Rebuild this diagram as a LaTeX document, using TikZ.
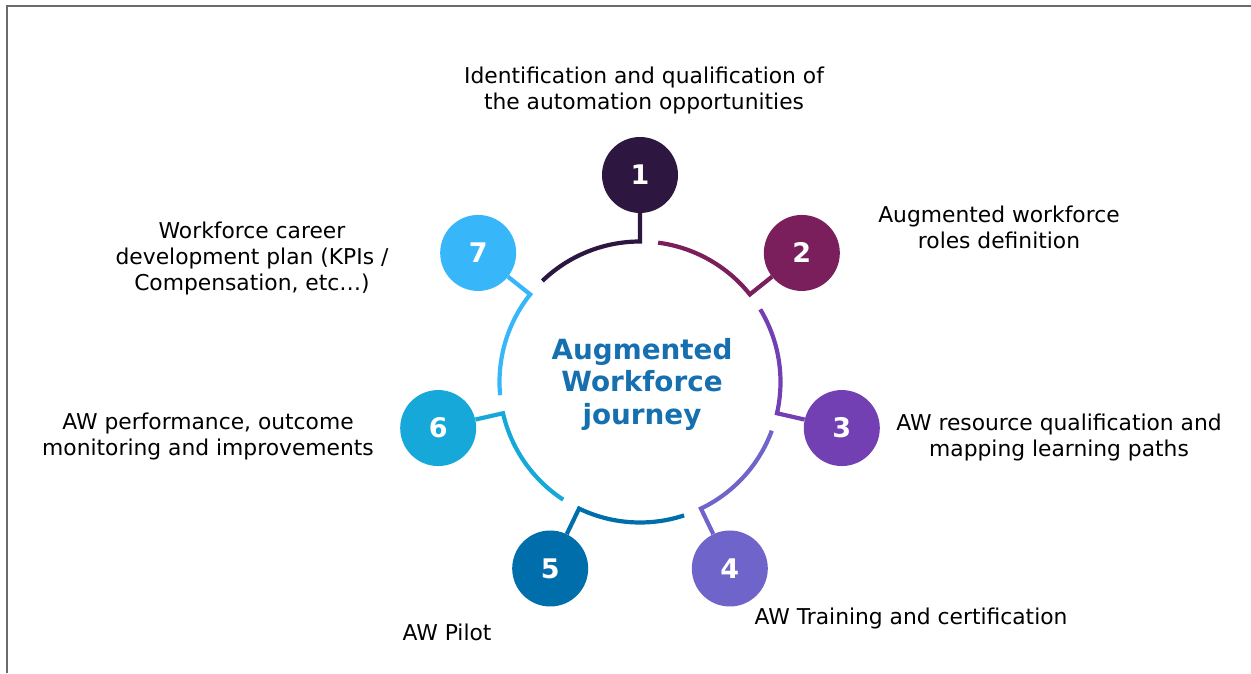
\documentclass[tikz,border=0pt]{standalone}
\usepackage{fontspec}
\setmainfont{DejaVu Sans}
\usetikzlibrary{calc}
\definecolor{stepA}{HTML}{2D1640}
\definecolor{stepB}{HTML}{7A1E5C}
\definecolor{stepC}{HTML}{7340B4}
\definecolor{stepD}{HTML}{6F64C9}
\definecolor{stepE}{HTML}{006EAB}
\definecolor{stepF}{HTML}{16A8D8}
\definecolor{stepG}{HTML}{38B6FA}
\definecolor{hubblue}{HTML}{1670B0}
\definecolor{framegray}{HTML}{6A6A6A}
\tikzset{
    stepdot/.style={circle, minimum size=76pt, inner sep=0pt, text=white,
        font=\fontsize{27}{32}\selectfont\bfseries},
    ring/.style={line width=4.2pt, line join=miter},
    caption/.style={align=center, inner sep=0pt,
        font=\fontsize{21.8}{26}\selectfont},
}

\begin{document}
\begin{tikzpicture}[x=1pt, y=1pt]
    \useasboundingbox (0,0) rectangle (1251,673);
    \draw[framegray, line width=2.2pt] (7,0) -- (7,667) -- (1251,667);

    % hub
    \coordinate (c) at (640,291);
    \node[align=center, text=hubblue, font=\fontsize{27.8}{32.5}\selectfont\bfseries]
        (hub) at (642,289) {Augmented\\Workforce\\journey};

    % steps
    \node[stepdot, fill=stepA] (s1) at ($(c)+(90:207)$) {1};
    \node[stepdot, fill=stepB] (s2) at ($(c)+(38.571:207)$) {2};
    \node[stepdot, fill=stepC] (s3) at ($(c)+(-12.857:207)$) {3};
    \node[stepdot, fill=stepD] (s4) at ($(c)+(-64.286:207)$) {4};
    \node[stepdot, fill=stepE] (s5) at ($(c)+(-115.714:207)$) {5};
    \node[stepdot, fill=stepF] (s6) at ($(c)+(-167.143:207)$) {6};
    \node[stepdot, fill=stepG] (s7) at ($(c)+(141.429:207)$) {7};

    % ring segments ending in a knee towards each step
    \coordinate (k1) at ($(c)+(90:140.5)$);
    \coordinate (k2) at ($(c)+(38.571:140.5)$);
    \coordinate (k3) at ($(c)+(-12.857:140.5)$);
    \coordinate (k4) at ($(c)+(-64.286:140.5)$);
    \coordinate (k5) at ($(c)+(-115.714:140.5)$);
    \coordinate (k6) at ($(c)+(-167.143:140.5)$);
    \coordinate (k7) at ($(c)+(141.429:140.5)$);

    \draw[ring, stepA] ($(c)+(134:140.5)$) arc[start angle=134, end angle=90, radius=140.5] -- (k1) -- (s1);
    \draw[ring, stepB] ($(c)+(82.571:140.5)$) arc[start angle=82.571, end angle=38.571, radius=140.5] -- (k2) -- (s2);
    \draw[ring, stepC] ($(c)+(31.143:140.5)$) arc[start angle=31.143, end angle=-12.857, radius=140.5] -- (k3) -- (s3);
    \draw[ring, stepD] ($(c)+(-20.286:140.5)$) arc[start angle=-20.286, end angle=-64.286, radius=140.5] -- (k4) -- (s4);
    \draw[ring, stepE] ($(c)+(-71.714:140.5)$) arc[start angle=-71.714, end angle=-115.714, radius=140.5] -- (k5) -- (s5);
    \draw[ring, stepF] ($(c)+(-123.143:140.5)$) arc[start angle=-123.143, end angle=-167.143, radius=140.5] -- (k6) -- (s6);
    \draw[ring, stepG] ($(c)+(185.429:140.5)$) arc[start angle=185.429, end angle=141.429, radius=140.5] -- (k7) -- (s7);

    % captions
    \node[caption] (t1) at (644,583) {Identification and qualification of\\the automation opportunities};
    \node[caption] (t2) at (999,446) {Augmented workforce\\roles definition};
    \node[caption] (t3) at (1059,236) {AW resource qualification and\\mapping learning paths};
    \node[caption] (t4) at (911,55) {AW Training and certification};
    \node[caption] (t5) at (447,41) {AW Pilot};
    \node[caption] (t6) at (208,237) {AW performance, outcome\\monitoring and improvements};
    \node[caption] (t7) at (252,415) {Workforce career\\development plan (KPIs /\\Compensation, etc…)};
\end{tikzpicture}
\end{document}
